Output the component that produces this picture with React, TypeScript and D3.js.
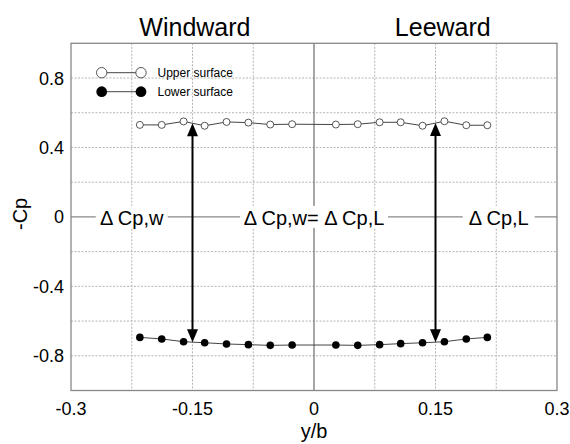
import React from "react";
import * as d3 from "d3";

const yb = [-0.215, -0.188, -0.161, -0.135, -0.108, -0.081, -0.054, -0.027, 0.027, 0.054, 0.081, 0.107, 0.134, 0.161, 0.188, 0.214];
const upperSurface = [0.53, 0.53, 0.55, 0.525, 0.547, 0.543, 0.532, 0.534, 0.532, 0.534, 0.545, 0.545, 0.525, 0.551, 0.528, 0.528];
const lowerSurface = [-0.694, -0.703, -0.719, -0.725, -0.732, -0.736, -0.74, -0.738, -0.738, -0.74, -0.736, -0.73, -0.725, -0.719, -0.703, -0.694];
const xTickLabels = [-0.3, -0.15, 0, 0.15, 0.3];
const yTickLabels = [0.8, 0.4, 0, -0.4, -0.8];
const xGrid = [-0.225, -0.15, -0.075, 0.075, 0.15, 0.225];
const yGrid = [0.8, 0.6, 0.4, 0.2, -0.2, -0.4, -0.6, -0.8];
const arrowX = [-0.15, 0.15];
const deltaLabels = [
  { x: -0.225, text: "Δ Cp,w" },
  { x: 0, text: "Δ Cp,w= Δ Cp,L" },
  { x: 0.228, text: "Δ Cp,L" },
];
const sideTitles = [
  { x: -0.147, text: "Windward" },
  { x: 0.159, text: "Leeward" },
];

const W = 570;
const H = 444;
const FONT = "'Liberation Sans', Arial, sans-serif";

function interp(xv: number, xsArr: number[], ysArr: number[]) {
  for (let i = 0; i < xsArr.length - 1; i++) {
    if (xv >= xsArr[i] && xv <= xsArr[i + 1]) {
      const t = (xv - xsArr[i]) / (xsArr[i + 1] - xsArr[i]);
      return ysArr[i] + t * (ysArr[i + 1] - ysArr[i]);
    }
  }
  return ysArr[0];
}

export default function App() {
  const x = d3.scaleLinear().domain([-0.3, 0.3]).range([71, 557]);
  const y = d3.scaleLinear().domain([-1, 1]).range([390.5, 43.3]);
  const line = d3
    .line<[number, number]>()
    .x((d) => x(d[0]))
    .y((d) => y(d[1]));
  const upperPts = yb.map((v, i) => [v, upperSurface[i]] as [number, number]);
  const lowerPts = yb.map((v, i) => [v, lowerSurface[i]] as [number, number]);

  const [x0, x1] = x.range();
  const [yBot, yTop] = y.range();

  const head = 13;
  const hw = 5.5;

  return (
    <svg
      width={W}
      height={H}
      style={{ position: "absolute", left: 0, top: 0, background: "#fff" }}
      fontFamily={FONT}
    >
      <rect x={0} y={0} width={W} height={H} fill="#fff" />
      {/* grid */}
      {xGrid.map((g) => (
        <line key={"xg" + g} x1={x(g)} x2={x(g)} y1={yTop} y2={yBot} stroke="#b5b5b5" strokeWidth={1} strokeDasharray="2,1.5" />
      ))}
      {yGrid.map((g) => (
        <line key={"yg" + g} x1={x0} x2={x1} y1={y(g)} y2={y(g)} stroke="#b5b5b5" strokeWidth={1} strokeDasharray="2,1.5" />
      ))}
      {/* zero lines */}
      <line x1={x(0)} x2={x(0)} y1={yTop} y2={yBot} stroke="#777" strokeWidth={1.3} />
      <line x1={x0} x2={x1} y1={y(0)} y2={y(0)} stroke="#888" strokeWidth={1.3} />
      {/* frame */}
      <rect x={x0} y={yTop} width={x1 - x0} height={yBot - yTop} fill="none" stroke="#888" strokeWidth={1.3} />

      {/* delta labels with white backgrounds */}
      {deltaLabels.map((d) => {
        const len = d.text.length;
        const wdt = len > 8 ? 148 : 72;
        return (
          <g key={d.text}>
            <rect x={x(d.x) - wdt / 2} y={y(0) - 11} width={wdt} height={22} fill="#fff" />
            <text x={x(d.x)} y={y(0) + 8} fontSize={20} textAnchor="middle" fill="#000">
              {d.text}
            </text>
          </g>
        );
      })}

      {/* series lines */}
      <path d={line(upperPts) || ""} fill="none" stroke="#444" strokeWidth={1} />
      <path d={line(lowerPts) || ""} fill="none" stroke="#444" strokeWidth={1} />

      {/* arrows */}
      {arrowX.map((ax) => {
        const ytop = y(interp(ax, yb, upperSurface));
        const ybot = y(interp(ax, yb, lowerSurface));
        const px = x(ax);
        return (
          <g key={"ar" + ax}>
            <line x1={px} x2={px} y1={ytop + head - 1} y2={ybot - head + 1} stroke="#000" strokeWidth={2} />
            <polygon points={`${px},${ytop} ${px - hw},${ytop + head} ${px + hw},${ytop + head}`} fill="#000" />
            <polygon points={`${px},${ybot} ${px - hw},${ybot - head} ${px + hw},${ybot - head}`} fill="#000" />
          </g>
        );
      })}

      {/* markers */}
      {upperPts.map((p, i) => (
        <circle key={"u" + i} cx={x(p[0])} cy={y(p[1])} r={3.5} fill="#fff" stroke="#444" strokeWidth={0.9} />
      ))}
      {lowerPts.map((p, i) => (
        <circle key={"l" + i} cx={x(p[0])} cy={y(p[1])} r={3.8} fill="#000" />
      ))}

      {/* legend */}
      <line x1={101.7} x2={141} y1={72.7} y2={72.7} stroke="#444" strokeWidth={1} />
      <circle cx={101.7} cy={72.7} r={5.2} fill="#fff" stroke="#444" strokeWidth={0.9} />
      <circle cx={141} cy={72.7} r={5.2} fill="#fff" stroke="#444" strokeWidth={0.9} />
      <text x={157.5} y={76.8} fontSize={12} fill="#000">Upper surface</text>
      <line x1={101.7} x2={141} y1={91.7} y2={91.7} stroke="#444" strokeWidth={1} />
      <circle cx={101.7} cy={91.7} r={5.4} fill="#000" />
      <circle cx={141} cy={91.7} r={5.4} fill="#000" />
      <text x={157.5} y={95.8} fontSize={12} fill="#000">Lower surface</text>

      {/* tick labels */}
      {xTickLabels.map((t) => (
        <text key={"xt" + t} x={x(t)} y={414.5} fontSize={18} textAnchor="middle" fill="#000">
          {String(t)}
        </text>
      ))}
      {yTickLabels.map((t) => (
        <text key={"yt" + t} x={64} y={y(t) + 6.5} fontSize={18} textAnchor="end" fill="#000">
          {String(t)}
        </text>
      ))}

      {/* axis titles */}
      <text x={x(0)} y={438} fontSize={20} textAnchor="middle" fill="#000">y/b</text>
      <text transform={`translate(27, ${y(0) - 3}) rotate(-90)`} fontSize={20} textAnchor="middle" fill="#000">-Cp</text>

      {/* side titles */}
      {sideTitles.map((s) => (
        <text key={s.text} x={x(s.x)} y={36} fontSize={25} textAnchor="middle" fill="#000">
          {s.text}
        </text>
      ))}
    </svg>
  );
}
